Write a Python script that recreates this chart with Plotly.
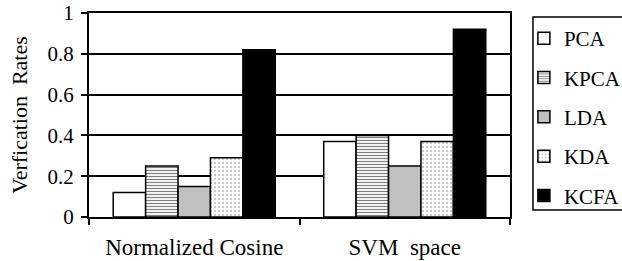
import plotly.graph_objects as go

categories = ["Normalized Cosine", "SVM  space"]
methods = ["PCA", "KPCA", "LDA", "KDA", "KCFA"]
values = {
    "PCA": [0.12, 0.37],
    "KPCA": [0.25, 0.40],
    "LDA": [0.15, 0.25],
    "KDA": [0.29, 0.37],
    "KCFA": [0.82, 0.92],
}
y_ticks = [0, 0.2, 0.4, 0.6, 0.8, 1]
y_tick_labels = ["0", "0.2", "0.4", "0.6", "0.8", "1"]

styles = {
    "PCA": dict(color="white", pattern=dict(shape="")),
    "KPCA": dict(color="white", pattern=dict(shape="-", fgcolor="black", size=3, solidity=0.4)),
    "LDA": dict(color="#c0c0c0", pattern=dict(shape="")),
    "KDA": dict(color="white", pattern=dict(shape=".", fgcolor="black", size=4, solidity=0.12)),
    "KCFA": dict(color="black", pattern=dict(shape="")),
}

fig = go.Figure()
for i, m in enumerate(methods):
    st = styles[m]
    fig.add_trace(go.Bar(
        x=categories, y=values[m], name=m,
        legendgroup=m,
        marker=dict(color=st["color"], pattern=st["pattern"],
                    line=dict(color="black", width=1.5)),
    ))

font = "Liberation Serif, Times New Roman, serif"
fig.update_layout(
    width=622, height=261,
    margin=dict(l=89, r=112, t=13, b=44, autoexpand=False),
    paper_bgcolor="white", plot_bgcolor="white",
    barmode="group", bargap=0.23, bargroupgap=0,
    font=dict(family=font, size=21, color="black"),
    showlegend=True,
    legend=dict(x=1.033, y=0.975, xanchor="left", yanchor="top",
                borderwidth=0,
                font=dict(family=font, size=21),
                tracegroupgap=9, itemwidth=30,
                bgcolor="rgba(0,0,0,0)"),
    shapes=[dict(type="rect", xref="paper", yref="paper",
                 x0=1.0546, x1=1.34, y0=0.034, y1=0.980,
                 line=dict(color="black", width=1.5), fillcolor="white",
                 layer="below")],
    xaxis=dict(
        automargin=False,
        showline=True, linecolor="black", linewidth=2, mirror=True,
        ticks="outside", tickson="boundaries", ticklen=6, tickwidth=1.5, tickcolor="black",
        ticklabelstandoff=8,
        showgrid=False, range=[-0.5, 1.5],
        tickfont=dict(family=font, size=23),
    ),
    yaxis=dict(
        automargin=False,
        range=[0, 1], tickvals=y_ticks, ticktext=y_tick_labels,
        showline=True, linecolor="black", linewidth=2, mirror=True,
        ticks="outside", ticklen=6, tickwidth=1.5, tickcolor="black",
        ticklabelstandoff=3,
        showgrid=True, gridcolor="black", gridwidth=1.5,
        zeroline=False,
        title=dict(text="Verfication  Rates", font=dict(family=font, size=22), standoff=14),
        tickfont=dict(family=font, size=21),
    ),
)

fig.write_html("out.html", config={"displayModeBar": False},
               post_script="document.body.style.margin='0';document.body.style.padding='0';")
